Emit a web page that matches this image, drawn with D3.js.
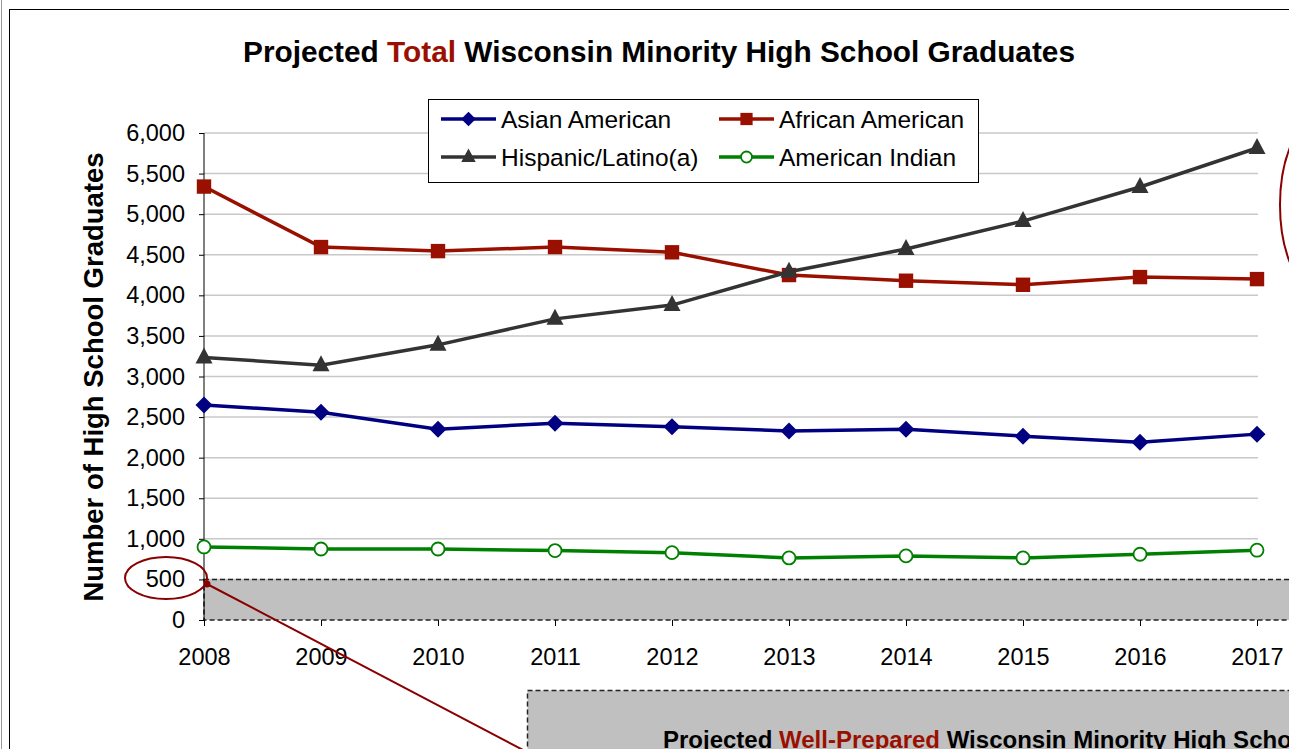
<!DOCTYPE html>
<html>
<head>
<meta charset="utf-8">
<script src="https://cdn.jsdelivr.net/npm/d3@7"></script>
<style>
  body { margin: 0; background: #fff; }
  svg { display: block; font-family: "Liberation Sans", Arial, sans-serif; }
</style>
</head>
<body>
<div class="chart"></div>
<script>
// data
var years = [2008, 2009, 2010, 2011, 2012, 2013, 2014, 2015, 2016, 2017];
var asianAmerican = [2650, 2560, 2350, 2425, 2380, 2330, 2350, 2265, 2190, 2290];
var africanAmerican = [5340, 4595, 4545, 4595, 4530, 4250, 4180, 4130, 4225, 4200];
var hispanicLatino = [3235, 3140, 3390, 3710, 3880, 4290, 4570, 4915, 5335, 5815];
var americanIndian = [900, 875, 875, 855, 830, 765, 790, 765, 810, 860];
var yTicks = [0, 500, 1000, 1500, 2000, 2500, 3000, 3500, 4000, 4500, 5000, 5500, 6000];

var svgWidth = 1289;
var svgHeight = 749;

var margin = { top: 133, left: 204 };
var width = 1054;
var height = 487;

var svg = d3.select(".chart")
  .append("svg")
  .attr("width", svgWidth)
  .attr("height", svgHeight);

// outer frame
svg.append("line")
  .attr("x1", 1.5).attr("x2", 1.5).attr("y1", 0).attr("y2", svgHeight)
  .attr("stroke", "#999").attr("stroke-width", 1);
svg.append("rect")
  .attr("x", 9.5).attr("y", 9.5)
  .attr("width", svgWidth).attr("height", svgHeight)
  .attr("fill", "none").attr("stroke", "#000").attr("stroke-width", 1);

// title
var title = svg.append("text")
  .attr("x", 659).attr("y", 62)
  .attr("text-anchor", "middle")
  .attr("font-size", "29.8px").attr("font-weight", "bold");
title.append("tspan").text("Projected ");
title.append("tspan").attr("fill", "#9a1000").text("Total");
title.append("tspan").text(" Wisconsin Minority High School Graduates");

var chartGroup = svg.append("g")
  .attr("transform", `translate(${margin.left}, ${margin.top})`);

// scales
var xScale = d3.scalePoint()
  .domain(years)
  .range([0, 1053]);

var yScale = d3.scaleLinear()
  .domain([0, 6000])
  .range([height, 0]);

// gridlines
chartGroup.selectAll(".grid")
  .data(yTicks.slice(1))
  .enter()
  .append("line")
  .attr("x1", 0).attr("x2", width)
  .attr("y1", d => yScale(d)).attr("y2", d => yScale(d))
  .attr("stroke", "#c8c8c8").attr("stroke-width", 1.5);

// grey box under 500
chartGroup.append("rect")
  .attr("x", 0).attr("y", yScale(500))
  .attr("width", svgWidth).attr("height", yScale(0) - yScale(500))
  .attr("fill", "#c0c0c0")
  .attr("stroke", "#222").attr("stroke-width", 1.5)
  .attr("stroke-dasharray", "5,3");

// axes
var yAxis = d3.axisLeft(yScale).tickValues(yTicks).tickFormat(d3.format(",")).tickSize(5).tickPadding(14);
var xAxis = d3.axisBottom(xScale).tickSize(6).tickPadding(22);

var gy = chartGroup.append("g").call(yAxis);
gy.select(".domain").attr("stroke", "#000").attr("d", `M0,${height}V0`);
gy.selectAll("text").attr("font-size", "23.5px").attr("fill", "#000").attr("font-family", "Liberation Sans, Arial, sans-serif");

var gx = chartGroup.append("g")
  .attr("transform", `translate(0, ${height})`)
  .call(xAxis);
gx.select(".domain").remove();
gx.selectAll("text").attr("font-size", "23.5px").attr("fill", "#000").attr("font-family", "Liberation Sans, Arial, sans-serif");

// y axis label
svg.append("text")
  .attr("transform", "translate(103, 377) rotate(-90)")
  .attr("text-anchor", "middle")
  .attr("font-size", "27.5px").attr("font-weight", "bold")
  .text("Number of High School Graduates");

// series
var series = [
  { name: "Asian American", values: asianAmerican, color: "#000080", marker: "diamond" },
  { name: "African American", values: africanAmerican, color: "#9a1000", marker: "square" },
  { name: "Hispanic/Latino(a)", values: hispanicLatino, color: "#333333", marker: "triangle" },
  { name: "American Indian", values: americanIndian, color: "#008000", marker: "circle" }
];

var line = d3.line()
  .x((d, i) => xScale(years[i]))
  .y(d => yScale(d));

function drawMarker(g, s, x, y, k) {
  k = k || 1;
  if (s.marker === "diamond") {
    var a = 8.5 * k;
    g.append("path")
      .attr("d", `M${x},${y - a}L${x + a},${y}L${x},${y + a}L${x - a},${y}Z`)
      .attr("fill", s.color);
  } else if (s.marker === "square") {
    var b = 7.2 * k;
    g.append("rect")
      .attr("x", x - b).attr("y", y - b).attr("width", 2 * b).attr("height", 2 * b)
      .attr("fill", s.color);
  } else if (s.marker === "triangle") {
    g.append("path")
      .attr("d", `M${x},${y - 10 * k}L${x + 8.5 * k},${y + 6 * k}L${x - 8.5 * k},${y + 6 * k}Z`)
      .attr("fill", s.color);
  } else {
    g.append("circle")
      .attr("cx", x).attr("cy", y).attr("r", 6.5 * k)
      .attr("fill", "#fff").attr("stroke", s.color).attr("stroke-width", 1.8);
  }
}

series.forEach(function(s) {
  chartGroup.append("path")
    .datum(s.values)
    .attr("d", line)
    .attr("fill", "none")
    .attr("stroke", s.color)
    .attr("stroke-width", 3.5);
  var mg = chartGroup.append("g");
  s.values.forEach(function(v, i) {
    drawMarker(mg, s, xScale(years[i]), yScale(v));
  });
});

// legend
var legend = svg.append("g");
legend.append("rect")
  .attr("x", 428.5).attr("y", 99.5).attr("width", 550).attr("height", 83)
  .attr("fill", "#fff").attr("stroke", "#000").attr("stroke-width", 1);

var legendPos = [[441, 119], [719, 119], [441, 157], [719, 157]];
series.forEach(function(s, i) {
  var lx = legendPos[i][0], ly = legendPos[i][1];
  legend.append("line")
    .attr("x1", lx).attr("x2", lx + 55).attr("y1", ly).attr("y2", ly)
    .attr("stroke", s.color).attr("stroke-width", 3.5);
  drawMarker(legend, s, lx + 27.5, ly, 0.85);
  legend.append("text")
    .attr("x", lx + 60).attr("y", ly + 8.5)
    .attr("font-size", "24.5px")
    .text(s.name);
});

// annotation: ellipse around 500 and pointer line
svg.append("ellipse")
  .attr("cx", 166).attr("cy", 578).attr("rx", 41).attr("ry", 21)
  .attr("fill", "none").attr("stroke", "#8a0000").attr("stroke-width", 2);
svg.append("line")
  .attr("x1", 207).attr("y1", 584).attr("x2", 525).attr("y2", 751)
  .attr("stroke", "#8a0000").attr("stroke-width", 2);
svg.append("circle")
  .attr("cx", 207).attr("cy", 584).attr("r", 3.5).attr("fill", "#8a0000");

// large ellipse at right edge
svg.append("ellipse")
  .attr("cx", 1323).attr("cy", 205).attr("rx", 43).attr("ry", 90)
  .attr("fill", "none").attr("stroke", "#8a0000").attr("stroke-width", 2);

// second chart box (cut off in the source image)
svg.append("rect")
  .attr("x", 527.5).attr("y", 690.5).attr("width", 800).attr("height", 100)
  .attr("fill", "#c0c0c0")
  .attr("stroke", "#222").attr("stroke-width", 1.5)
  .attr("stroke-dasharray", "5,3");
var t2 = svg.append("text")
  .attr("x", 663).attr("y", 748)
  .attr("font-size", "24px").attr("font-weight", "bold");
t2.append("tspan").text("Projected ");
t2.append("tspan").attr("fill", "#9a1000").text("Well-Prepared");
t2.append("tspan").text(" Wisconsin Minority High School Graduates");
</script>
</body>
</html>
